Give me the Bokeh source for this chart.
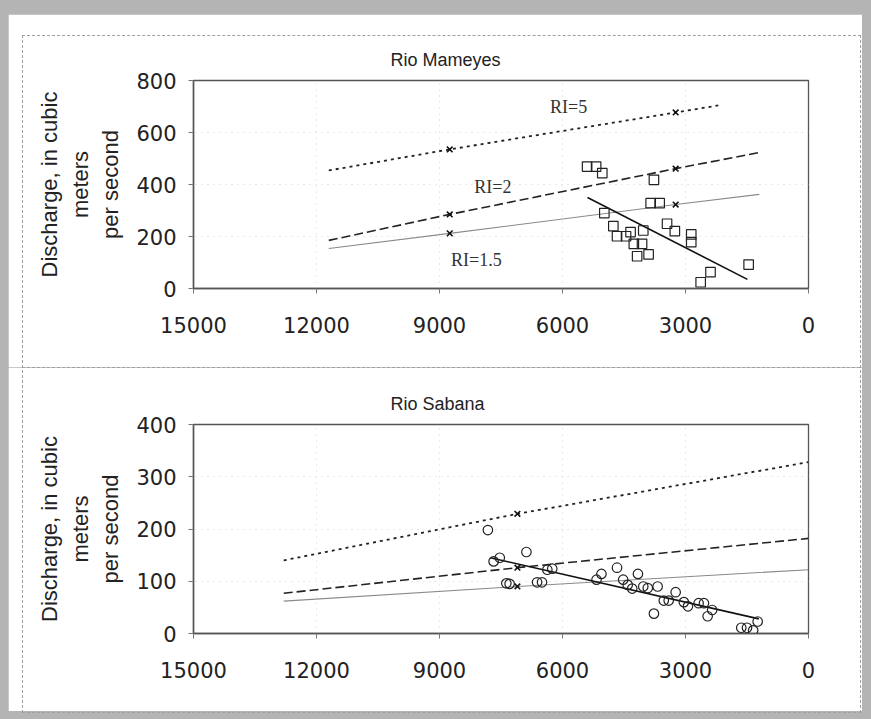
from bokeh.plotting import figure
from bokeh.layouts import column
from bokeh.models import Range1d, FixedTicker
from bokeh.core.properties import value
from bokeh.embed import file_html
from bokeh.resources import INLINE

# ---------------- data ----------------
x_ticks = [15000, 12000, 9000, 6000, 3000, 0]
ylabel = "Discharge, in cubic\nmeters\nper second"

# Rio Mameyes
m_title = "Rio Mameyes"
m_yticks = [0, 200, 400, 600, 800]
m_ri5_x = [11700, 8750, 3240, 2200]
m_ri5_y = [454, 535, 677, 704]
m_ri2_x = [11700, 8750, 3240, 1200]
m_ri2_y = [185, 285, 461, 523]
m_ri15_x = [11700, 8750, 3240, 1200]
m_ri15_y = [154, 212, 323, 362]
m_mark_x = [8750, 3240]
m_mark5_y = [535, 677]
m_mark2_y = [285, 461]
m_mark15_y = [212, 323]
m_fit_x = [5390, 1490]
m_fit_y = [350, 35]
m_obs_x = [5400, 5180, 5030, 3770, 3850, 3630, 4980, 4760, 4670, 4450, 4340, 4030,
           4260, 4060, 4180, 3900, 3450, 3260, 2860, 2860, 2390, 2630, 1460]
m_obs_y = [469, 469, 444, 418, 328, 328, 290, 240, 201, 201, 217, 223,
           172, 172, 124, 131, 249, 221, 208, 178, 63, 24, 92]
m_lab_text = ["RI=5", "RI=2", "RI=1.5"]
m_lab_x = [5850, 7700, 8100]
m_lab_y = [700, 392, 108]

# Rio Sabana
s_title = "Rio Sabana"
s_yticks = [0, 100, 200, 300, 400]
s_ri5_x = [12800, 7100, 0]
s_ri5_y = [140, 229, 328]
s_ri2_x = [12800, 7100, 0]
s_ri2_y = [77, 126, 182]
s_ri15_x = [12800, 7100, 0]
s_ri15_y = [62, 90, 122]
s_mark_x = [7100]
s_mark5_y = [229]
s_mark2_y = [126]
s_mark15_y = [90]
s_fit_x = [7760, 1210]
s_fit_y = [145, 28]
s_obs_x = [7820, 6880, 7680, 7530, 7370, 7290, 6620, 6500, 6370, 6250, 5170, 5050,
           4670, 4520, 4410, 4300, 4160, 4030, 3920, 3680, 3240, 3770, 3530, 3410,
           3040, 2940, 2680, 2550, 2350, 2460, 1640, 1500, 1350, 1240]
s_obs_y = [198, 156, 138, 145, 96, 95, 98, 98, 122, 124, 103, 114,
           126, 103, 93, 86, 114, 90, 87, 90, 79, 38, 63, 63,
           60, 52, 58, 58, 45, 33, 11, 11, 6, 23]

W = 854
TICK_FONT = "DejaVu Sans"


def make_fig(title, ymax, yticks, height, top, bottom):
    p = figure(width=W, height=height, output_backend="svg", toolbar_location=None,
               x_range=Range1d(15000, 0), y_range=Range1d(0, ymax),
               min_border_left=185, min_border_right=54,
               min_border_top=top, min_border_bottom=bottom)
    p.title.text = title
    p.title.align = "left"
    p.title.offset = 197
    p.title.standoff = 21
    p.title.text_font = "Liberation Sans"
    p.title.text_font_size = "18px"
    p.title.text_font_style = "normal"
    p.title.text_color = "#222222"
    p.border_fill_color = "white"
    p.background_fill_color = "white"
    p.outline_line_color = "#555555"
    p.outline_line_width = 1.3

    p.xaxis.ticker = FixedTicker(ticks=x_ticks)
    p.yaxis.ticker = FixedTicker(ticks=yticks)
    p.xgrid.ticker = FixedTicker(ticks=x_ticks)
    p.ygrid.ticker = FixedTicker(ticks=yticks)
    for g in (p.xgrid, p.ygrid):
        g.grid_line_color = "#d4d4d4"
        g.grid_line_dash = "1 5"
        g.grid_line_width = 1
    for ax in (p.xaxis, p.yaxis):
        ax.axis_line_color = "#555555"
        ax.axis_line_width = 1.5
        ax.major_tick_line_color = "#777777"
        ax.major_tick_out = 5
        ax.major_tick_in = 0
        ax.minor_tick_line_color = None
        ax.major_label_text_font = TICK_FONT
        ax.major_label_text_font_size = "21px"
        ax.major_label_text_color = "#222222"
    p.xaxis.major_label_standoff = 23
    p.yaxis.major_label_standoff = 12
    p.yaxis.axis_label = ylabel
    p.yaxis.axis_label_text_font = "Liberation Sans"
    p.yaxis.axis_label_text_font_size = "22px"
    p.yaxis.axis_label_text_font_style = "normal"
    p.yaxis.axis_label_text_color = "#222222"
    p.yaxis.axis_label_text_line_height = 1.23
    p.yaxis.axis_label_standoff = 10
    return p


def draw(p, ri5, ri2, ri15, mark_x, m5, m2, m15, fit, obs, marker):
    p.line(ri5[0], ri5[1], line_color="#222222", line_width=1.8, line_dash="3 4")
    p.line(ri2[0], ri2[1], line_color="#222222", line_width=1.6, line_dash="9 4")
    p.line(ri15[0], ri15[1], line_color="#8a8a8a", line_width=1.1)
    p.line(fit[0], fit[1], line_color="#111111", line_width=1.6)
    for ys in (m5, m2, m15):
        p.scatter(mark_x, ys, marker="x", size=8, line_color="#111111", line_width=1.6)
    p.scatter(obs[0], obs[1], marker=marker, size=9.5, fill_color=None,
              line_color="#222222", line_width=1.2)


# ---- top figure ----
p1 = make_fig(m_title, 800, m_yticks, 353, 66, 79)
draw(p1, (m_ri5_x, m_ri5_y), (m_ri2_x, m_ri2_y), (m_ri15_x, m_ri15_y),
     m_mark_x, m5=m_mark5_y, m2=m_mark2_y, m15=m_mark15_y,
     fit=(m_fit_x, m_fit_y), obs=(m_obs_x, m_obs_y), marker="square")
p1.text(m_lab_x, m_lab_y, text=m_lab_text, text_font=value("Liberation Serif"),
        text_font_size="18px", text_align="center", text_baseline="middle",
        text_color="#333333")

# ---- bottom figure ----
p2 = make_fig(s_title, 400, s_yticks, 344, 57, 78)
draw(p2, (s_ri5_x, s_ri5_y), (s_ri2_x, s_ri2_y), (s_ri15_x, s_ri15_y),
     s_mark_x, m5=s_mark5_y, m2=s_mark2_y, m15=s_mark15_y,
     fit=(s_fit_x, s_fit_y), obs=(s_obs_x, s_obs_y), marker="circle")

layout = column(p1, p2, spacing=0)

html = file_html(layout, INLINE)
frame_css = (
    '<div style="position:absolute;left:22px;top:35px;width:837px;height:676px;'
    'border:1px dashed #a0a0a0;pointer-events:none;z-index:5"></div>'
    '<div style="position:absolute;left:22px;top:367px;width:838px;height:0;'
    'border-top:1px dashed #a0a0a0;pointer-events:none;z-index:5"></div>'
)
i = html.rfind("<body")
j = html.find(">", i)
html = (html[:i]
        + '<body style="background-color:#b4b4b4;margin:8px;padding-top:6px;">'
        + frame_css + html[j + 1:])
open("out.html", "w").write(html)
